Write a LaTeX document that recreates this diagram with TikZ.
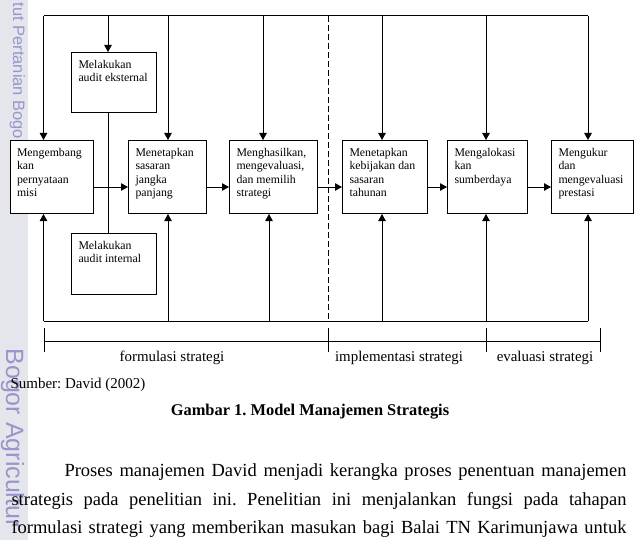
\documentclass[tikz,border=0pt]{standalone}
\usepackage{fontspec}
\setmainfont{Liberation Serif}
\newfontfamily\wmfont{Liberation Sans}
\usetikzlibrary{arrows.meta}
\definecolor{wmgray}{RGB}{229,229,236}
\definecolor{wmtext}{RGB}{150,150,205}
\newcommand{\proctext}[3]{\parbox[c][#2][t]{#1}{\raggedright\vspace*{7.5pt}#3}}
\frenchspacing

\begin{document}
\begin{tikzpicture}[x=1pt,y=-1pt,line width=1pt,
  proc/.style={draw,fill=white,inner xsep=7pt,inner ysep=0pt,anchor=north west,font=\fontsize{11.8}{13.6}\selectfont},
  flow/.style={-{Triangle[length=7pt,width=7.5pt]}},
  phase/.style={anchor=base,inner sep=0pt,font=\fontsize{14.9}{17}\selectfont},
  body/.style={anchor=base west,inner sep=0pt,font=\fontsize{18.5}{22}\selectfont},
  wm/.style={anchor=base west,inner sep=0pt,rotate=-90,text=wmtext}]
\useasboundingbox (0,0) rectangle (636,540);
\clip (0,0) rectangle (636,540);
\fill[wmgray] (0,0) rectangle (28,540);
\node[wm,font=\wmfont\fontsize{16.5}{17}\selectfont] (wmtop) at (13,2) {tut Pertanian Bogo};
\node[wm,font=\wmfont\fontsize{25}{25}\selectfont] (wmbot) at (6,348) {Bogor Agricultur};

\node[proc] (misi) at (9.5,140) {\proctext{69.5pt}{73pt}{Mengembang\\kan\\pernyataan\\misi}};
\node[proc] (ext) at (71,52) {\proctext{71pt}{60pt}{Melakukan\\audit eksternal}};
\node[proc] (int) at (71,233) {\proctext{71pt}{61pt}{Melakukan\\audit internal}};
\node[proc] (sas) at (128,140) {\proctext{64pt}{73pt}{Menetapkan\\sasaran\\jangka\\panjang}};
\node[proc] (str) at (229,140) {\proctext{74pt}{73pt}{Menghasilkan,\\mengevaluasi,\\dan memilih\\strategi}};
\node[proc] (keb) at (342,140) {\proctext{71pt}{73pt}{Menetapkan\\kebijakan dan\\sasaran\\tahunan}};
\node[proc] (sum) at (447,140) {\proctext{66pt}{73pt}{Mengalokasi\\kan\\sumberdaya}};
\node[proc] (pre) at (551,140) {\proctext{68pt}{73pt}{Mengukur\\dan\\mengevaluasi\\prestasi}};

\foreach \n/\x in {misi/43.5,ext/108,sas/168,str/263,keb/382,sum/486,pre/588}{
  \coordinate (t\n) at (\x,16);
  \draw[flow] (t\n) -- (t\n |- \n.north);
}
\draw (tmisi) -- (tpre);
\draw (text |- ext.south) -- (text |- int.north);

\coordinate (row) at (0,187);
\foreach \a/\b in {misi/sas,sas/str,str/keb,keb/sum,sum/pre}
  \draw[flow] (\a.east |- row) -- (\b.west |- row);

\foreach \n/\x in {misi/43.5,sas/168,str/269,keb/382,sum/486,pre/588}{
  \coordinate (b\n) at (\x,321);
  \draw[flow] (b\n) -- (b\n |- \n.south);
}
\draw (bmisi) -- (bpre);

\coordinate (dtop) at (328,16);
\coordinate (dbot) at (328,321);
\draw[dash pattern=on 6pt off 3pt] (dtop) -- (dbot);

\foreach \s/\x in {s1/44,s2/328,s3/486,s4/600}{
  \coordinate (\s) at (\x,341);
  \draw ([yshift=13pt]\s) -- ([yshift=-11pt]\s);
}
\draw (s1) -- (s4);
\node[phase] (form) at (172,361) {formulasi strategi};
\node[phase] (impl) at (399,361) {implementasi strategi};
\node[phase] (eval) at (545,361) {evaluasi strategi};

\node[anchor=base west,inner sep=0pt,font=\fontsize{15}{18}\selectfont] (src) at (10,388) {Sumber: David (2002)};
\node[anchor=base,inner sep=0pt,font=\bfseries\fontsize{16.4}{20}\selectfont] (cap) at (310,415.7) {Gambar 1. Model Manajemen Strategis};

\node[body] (p1) at (64,476.7) {\makebox[562pt][s]{Proses manajemen David menjadi kerangka proses penentuan manajemen}};
\node[body] (p2) at (11,505) {\makebox[615pt][s]{strategis pada penelitian ini. Penelitian ini menjalankan fungsi pada tahapan}};
\node[body] (p3) at (11,533) {\makebox[615pt][s]{formulasi strategi yang memberikan masukan bagi Balai TN Karimunjawa untuk}};
\end{tikzpicture}
\end{document}
